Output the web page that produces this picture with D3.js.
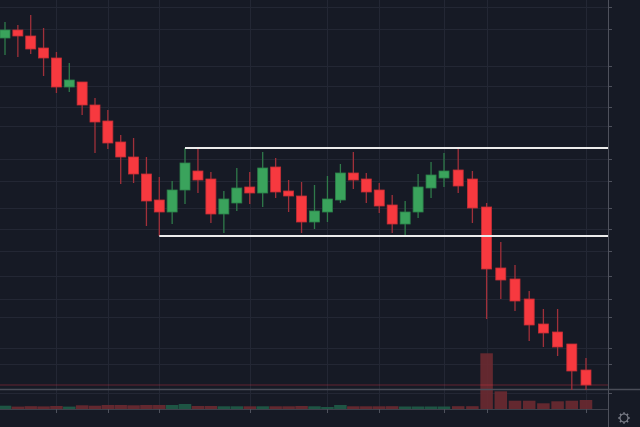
<!DOCTYPE html>
<html lang="en">

<head>
    <script src='https://d3js.org/d3.v7.min.js'></script>
    <style>
        body { margin: 0; background: #161a25; overflow: hidden; }
    </style>
</head>

<body>
</body>

<script>

    // candle prices, one entry per bar
    const opens  = [0.471, 0.479, 0.473, 0.461, 0.451, 0.422, 0.427, 0.404, 0.388, 0.367,
                    0.352, 0.335, 0.309, 0.297, 0.319, 0.338, 0.330, 0.295, 0.306, 0.322,
                    0.316, 0.342, 0.318, 0.313, 0.287, 0.297, 0.309, 0.336, 0.330, 0.319,
                    0.304, 0.285, 0.297, 0.321, 0.331, 0.339, 0.330, 0.302, 0.241, 0.230,
                    0.210, 0.185, 0.177, 0.165, 0.139];
    const highs  = [0.487, 0.484, 0.494, 0.481, 0.457, 0.446, 0.427, 0.411, 0.399, 0.374,
                    0.371, 0.352, 0.332, 0.328, 0.361, 0.360, 0.337, 0.318, 0.341, 0.337,
                    0.357, 0.351, 0.329, 0.327, 0.324, 0.333, 0.345, 0.357, 0.336, 0.326,
                    0.314, 0.308, 0.335, 0.347, 0.356, 0.360, 0.338, 0.306, 0.267, 0.244,
                    0.218, 0.200, 0.200, 0.165, 0.151];
    const lows   = [0.454, 0.452, 0.455, 0.433, 0.416, 0.417, 0.394, 0.356, 0.360, 0.325,
                    0.326, 0.283, 0.273, 0.285, 0.305, 0.316, 0.286, 0.276, 0.298, 0.305,
                    0.302, 0.311, 0.297, 0.276, 0.280, 0.287, 0.306, 0.320, 0.306, 0.296,
                    0.276, 0.274, 0.291, 0.311, 0.322, 0.316, 0.286, 0.190, 0.210, 0.198,
                    0.168, 0.162, 0.153, 0.119, 0.119];
    const closes = [0.479, 0.473, 0.460, 0.451, 0.422, 0.429, 0.404, 0.387, 0.366, 0.352,
                    0.335, 0.308, 0.297, 0.319, 0.346, 0.329, 0.295, 0.310, 0.321, 0.316,
                    0.341, 0.317, 0.313, 0.287, 0.298, 0.310, 0.336, 0.329, 0.317, 0.303,
                    0.285, 0.297, 0.322, 0.334, 0.338, 0.323, 0.301, 0.240, 0.229, 0.208,
                    0.184, 0.176, 0.162, 0.138, 0.124];
    // volume in thousands
    const volumes = [33, 24, 28, 26, 30, 24, 37, 33, 40, 40,
                     37, 40, 40, 40, 50, 30, 30, 27, 27, 27,
                     27, 27, 27, 30, 27, 20, 40, 27, 27, 27,
                     28, 25, 25, 25, 25, 28, 28, 557, 177, 83,
                     83, 57, 77, 83, 90];

    // price levels of the right axis (labels are cut off in the picture)
    const gridPrices = [0.502, 0.480, 0.443, 0.423, 0.402, 0.383, 0.350, 0.328, 0.301,
                        0.280, 0.258, 0.233, 0.210, 0.192, 0.161, 0.145, 0.116];
    // bars where the time axis puts a tick
    const timeTicks = [4, 8, 12, 19, 25, 29, 34, 37, 44];

    // the two drawn range lines: start bar and price
    const rangeLines = [
        { start: 14, price: highs[14] },
        { start: 12, price: lows[12] }
    ];

    const width = 640;
    const height = 427;
    const plotRight = 608;
    const plotBottom = 409;
    const paneLine = 389;

    const up = "#3aa35c", upEdge = "#2b8049", upWick = "#2f7a4a";
    const down = "#f7393f", downEdge = "#c42f36", downWick = "#a0303a";

    const n = closes.length;
    // the screenshot's bar spacing widens a little towards the right
    const x = d3.scaleLinear().domain([0, 14, 34, n - 1]).range([5, 185, 444, 586]);
    const bodyW = 10;
    const volW = 12.5;
    const y = d3.scaleLinear().domain([0.100, 0.509]).range([plotBottom, 0]);
    const yVol = d3.scaleLinear().domain([0, 560]).range([plotBottom, 353]);

    const candles = d3.range(n).map(i => ({
        i: i, o: opens[i], h: highs[i], l: lows[i], c: closes[i], v: volumes[i],
        rising: closes[i] >= opens[i]
    }));

    const svg = d3.select("body")
                    .append("svg")
                    .attr("width", width)
                    .attr("height", height);

    svg.append("rect")
        .attr("width", width)
        .attr("height", height)
        .attr("fill", "#161a25");

    // grid
    svg.append("g")
        .selectAll("line")
        .data(gridPrices)
        .enter()
        .append("line")
        .attr("x1", 0)
        .attr("x2", plotRight)
        .attr("y1", d => Math.round(y(d)) + 0.5)
        .attr("y2", d => Math.round(y(d)) + 0.5)
        .attr("stroke", "#232734");

    svg.append("g")
        .selectAll("line")
        .data(timeTicks)
        .enter()
        .append("line")
        .attr("x1", d => Math.round(x(d)) + 0.5)
        .attr("x2", d => Math.round(x(d)) + 0.5)
        .attr("y1", 0)
        .attr("y2", plotBottom)
        .attr("stroke", "#232734");

    // volume
    svg.append("g")
        .selectAll("rect")
        .data(candles)
        .enter()
        .append("rect")
        .attr("x", d => x(d.i) - volW / 2)
        .attr("width", volW)
        .attr("y", d => yVol(d.v))
        .attr("height", d => plotBottom - yVol(d.v))
        .attr("fill", d => d.rising ? "#1f5c48" : "#6b2a31")
        .attr("opacity", 0.9);

    // separator line and last price line
    svg.append("line")
        .attr("x1", 0).attr("x2", width)
        .attr("y1", paneLine + 0.5).attr("y2", paneLine + 0.5)
        .attr("stroke", "#4a4d58")
        .attr("stroke-width", 1.3);

    svg.append("line")
        .attr("x1", 0).attr("x2", plotRight)
        .attr("y1", y(closes[n - 1])).attr("y2", y(closes[n - 1]))
        .attr("stroke", "#f23645")
        .attr("stroke-opacity", 0.35);

    // candles
    const g = svg.selectAll("g.candle")
                .data(candles)
                .enter()
                .append("g")
                .attr("class", "candle");

    g.append("line")
        .attr("x1", d => x(d.i))
        .attr("x2", d => x(d.i))
        .attr("y1", d => y(d.h))
        .attr("y2", d => y(d.l))
        .attr("stroke", d => d.rising ? upWick : downWick)
        .attr("stroke-width", 1.3);

    g.append("rect")
        .attr("x", d => x(d.i) - bodyW / 2)
        .attr("width", bodyW)
        .attr("y", d => y(Math.max(d.o, d.c)))
        .attr("height", d => Math.max(1, y(Math.min(d.o, d.c)) - y(Math.max(d.o, d.c))))
        .attr("fill", d => d.rising ? up : down)
        .attr("stroke", d => d.rising ? upEdge : downEdge)
        .attr("stroke-width", 0.8);

    // range lines
    svg.append("g")
        .selectAll("line")
        .data(rangeLines)
        .enter()
        .append("line")
        .attr("x1", d => x(d.start))
        .attr("x2", plotRight)
        .attr("y1", d => y(d.price))
        .attr("y2", d => y(d.price))
        .attr("stroke", "#ececec")
        .attr("stroke-width", 2.2);

    // axes frame
    svg.append("line")
        .attr("x1", 0).attr("x2", plotRight)
        .attr("y1", plotBottom + 0.5).attr("y2", plotBottom + 0.5)
        .attr("stroke", "#3d404b");

    svg.append("line")
        .attr("x1", plotRight + 0.5).attr("x2", plotRight + 0.5)
        .attr("y1", 0).attr("y2", height)
        .attr("stroke", "#4e515c");

    svg.append("g")
        .selectAll("line")
        .data(gridPrices)
        .enter()
        .append("line")
        .attr("x1", plotRight)
        .attr("x2", plotRight + 4)
        .attr("y1", d => Math.round(y(d)) + 0.5)
        .attr("y2", d => Math.round(y(d)) + 0.5)
        .attr("stroke", "#4e515c");

    svg.append("g")
        .selectAll("line")
        .data(timeTicks)
        .enter()
        .append("line")
        .attr("x1", d => Math.round(x(d)) + 0.5)
        .attr("x2", d => Math.round(x(d)) + 0.5)
        .attr("y1", plotBottom)
        .attr("y2", plotBottom + 4)
        .attr("stroke", "#4e515c");

    // settings gear
    const gear = svg.append("g")
                    .attr("transform", "translate(624,418)")
                    .attr("stroke", "#7b7e89")
                    .attr("fill", "none");
    gear.append("circle").attr("r", 4).attr("stroke-width", 1.2);
    gear.selectAll("line.tooth")
        .data(d3.range(8))
        .enter()
        .append("line")
        .attr("class", "tooth")
        .attr("x1", d => 4 * Math.cos(d * Math.PI / 4))
        .attr("y1", d => 4 * Math.sin(d * Math.PI / 4))
        .attr("x2", d => 5.8 * Math.cos(d * Math.PI / 4))
        .attr("y2", d => 5.8 * Math.sin(d * Math.PI / 4))
        .attr("stroke-width", 1.5);

</script>

</html>
